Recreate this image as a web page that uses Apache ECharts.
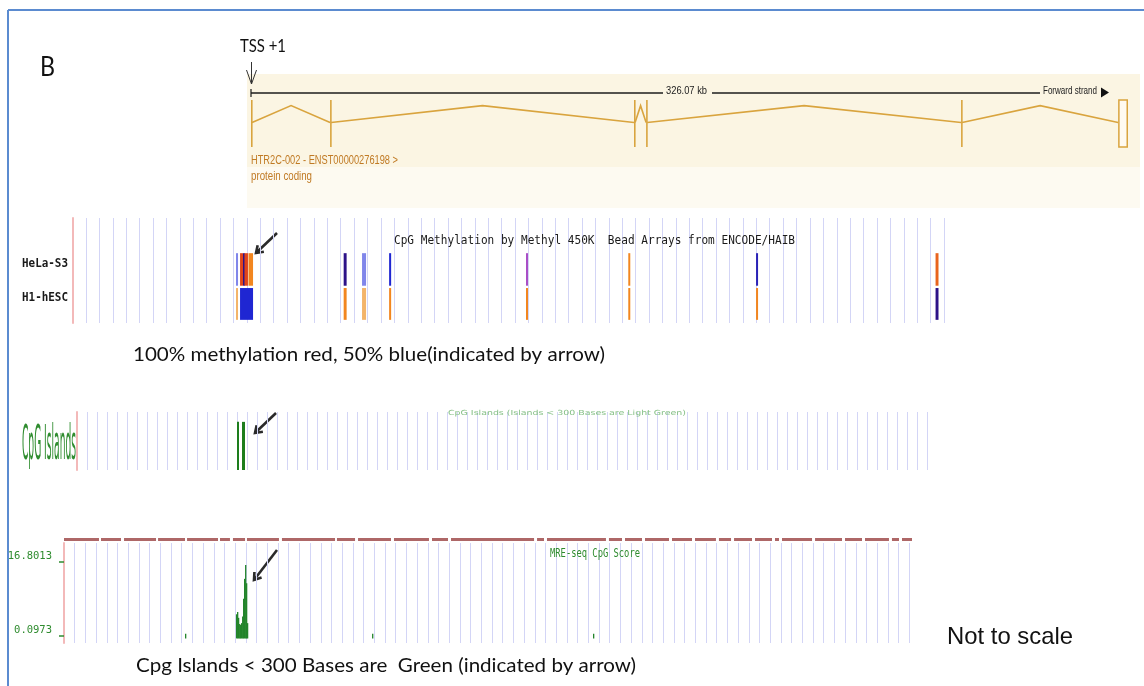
<!DOCTYPE html>
<html>
<head>
<meta charset="utf-8">
<script src="https://cdn.jsdelivr.net/npm/echarts@6/dist/echarts.min.js"></script>
<style>
  html, body { margin: 0; padding: 0; background: #ffffff; }
  #chart { width: 1144px; height: 686px; }
</style>
</head>
<body>
<div id="chart"></div>
<script>
// ---------------- data ----------------
// Transcript HTR2C-002 (kb from the TSS)
const geneSpanKb = 326.07;
const exonStartKb = [0.0, 29.4, 142.4, 146.9, 264.0, 322.4];
const exonEndKb   = [0.4, 29.8, 142.8, 147.3, 264.4, 326.07];
const transcriptName = 'HTR2C-002 - ENST00000276198 >';
const transcriptType = 'protein coding';

// 450K bead array calls per cell line: [start, end, beta]
const cellLines = ['HeLa-S3', 'H1-hESC'];
const helaCalls = [
  [12.19, 12.34, 0.30], [12.49, 12.71, 1.00], [12.71, 12.82, 0.05],
  [12.82, 13.08, 1.00], [13.12, 13.46, 0.85],
  [20.22, 20.44, 0.05], [21.59, 21.89, 0.30], [23.61, 23.76, 0.15],
  [33.82, 33.97, 0.50], [41.45, 41.55, 0.80], [50.98, 51.13, 0.10],
  [64.37, 64.59, 0.90]
];
const h1Calls = [
  [12.19, 12.34, 0.70], [12.49, 13.46, 0.15],
  [20.22, 20.44, 0.85], [21.59, 21.89, 0.70], [23.61, 23.76, 0.80],
  [33.82, 33.97, 0.80], [41.45, 41.55, 0.80], [50.98, 51.13, 0.85],
  [64.37, 64.59, 0.05]
];

// CpG islands: [start, end]
const cpgIslands = [[16.00, 16.20], [16.50, 16.80]];

// MRE-seq CpG score
const mrePos   = [11.31, 16.07, 16.17, 16.26, 16.36, 16.45, 16.54, 16.64, 16.73, 16.82, 16.92, 17.01, 17.10, 28.79, 49.44];
const mreScore = [0.6,   5.0,   5.5,   4.2,   2.8,   2.6,   3.0,   4.5,   8.5,   13.0,  16.1,  12.0,  3.0,   0.6,   0.6];
const mreBin = 0.0935;
const mreTicks = [0.0973, 16.8013];
// read coverage strip above the score track: [start, end]
const mreCoverage = [
  [0.00, 3.27], [3.46, 5.33], [5.61, 8.60], [8.79, 11.31], [11.50, 14.39],
  [14.58, 15.51], [15.79, 16.92], [17.10, 20.09], [20.37, 25.33], [25.51, 27.20],
  [27.48, 30.56], [30.84, 34.11], [34.39, 35.89], [36.17, 43.93], [44.21, 44.86],
  [45.14, 50.65], [50.93, 52.15], [52.43, 54.02], [54.30, 56.54], [56.82, 58.69],
  [58.97, 60.93], [61.21, 62.34], [62.62, 64.30], [64.58, 66.17], [66.45, 66.82],
  [67.10, 69.91], [70.19, 72.71], [72.99, 74.58], [74.86, 77.10], [77.38, 78.04],
  [78.32, 79.25]
];

// ---------------- styling helpers ----------------
const GENE = '#d9a43e';
const GRIDLINE = '#d3d5f6';
const EDGE = '#f3b9b9';
const GREEN = '#2f8c2f';

function betaColor(b) {
  if (b <= 0.07) return '#2d1288';
  if (b <= 0.12) return '#2a22b6';
  if (b <= 0.2)  return '#1f26d2';
  if (b <= 0.35) return '#8086ea';
  if (b <= 0.6)  return '#a94ec6';
  if (b <= 0.75) return '#f3b46a';
  if (b <= 0.88) return '#f2861f';
  if (b <= 0.93) return '#e9641d';
  return '#e0441b';
}

const measureCtx = document.createElement('canvas').getContext('2d');
function fitX(text, font, width) {
  measureCtx.font = font;
  return width / measureCtx.measureText(text).width;
}
function label(text, x, y, font, fill, width, align, scaleY) {
  return {
    type: 'text', x: x, y: y, z: 50,
    scaleX: width ? fitX(text, font, width) : 1,
    scaleY: scaleY || 1,
    style: { text: text, font: font, fill: fill, align: align || 'left', verticalAlign: 'middle' }
  };
}
function arrow(x1, y1, x2, y2) {
  const a = Math.atan2(y2 - y1, x2 - x1), L = 8, s = 0.6;
  return {
    type: 'group', z: 60,
    children: [
      { type: 'line', shape: { x1: x1, y1: y1, x2: x2, y2: y2 }, style: { stroke: '#2a2a2a', lineWidth: 2.6 } },
      { type: 'polyline', shape: { points: [
          [x2 - L * Math.cos(a - s), y2 - L * Math.sin(a - s)], [x2, y2],
          [x2 - L * Math.cos(a + s), y2 - L * Math.sin(a + s)]] },
        style: { stroke: '#2a2a2a', lineWidth: 2.6, fill: null } }
    ]
  };
}

// ---------------- series data ----------------
const exonData = exonStartKb.map((s, i) => [s, exonEndKb[i]]);
const intronData = [];
for (let i = 0; i + 1 < exonStartKb.length; i++) intronData.push([exonEndKb[i], exonStartKb[i + 1]]);

const methylData = [];
helaCalls.forEach(c => methylData.push([c[0], c[1], c[2], 0]));
h1Calls.forEach(c => methylData.push([c[0], c[1], c[2], 1]));
const rowBand = [[0.335, 0.645], [0.667, 0.97]];

const mreData = mrePos.map((p, i) => [p, mreScore[i]]);

// ---------------- axes ----------------
function frameX(grid, max) {
  return {
    gridIndex: grid, type: 'value', min: 0, max: max, interval: 1,
    axisLine: { show: false }, axisTick: { show: false }, axisLabel: { show: false },
    splitLine: { show: true, showMinLine: false, lineStyle: { color: GRIDLINE, width: 1 } }
  };
}
function hiddenX(grid, max) {
  return { gridIndex: grid, type: 'value', min: 0, max: max, show: false };
}
function edgeY(grid, inverse) {
  return {
    gridIndex: grid, type: 'value', min: 0, max: 1, inverse: !!inverse,
    axisLine: { show: true, lineStyle: { color: EDGE, width: 2 } },
    axisTick: { show: false }, axisLabel: { show: false }, splitLine: { show: false }
  };
}

// MRE score axis: ticks at 0.0973 (y≈636) and 16.8013 (y≈562) inside a 100px frame
const mreK = (mreTicks[1] - mreTicks[0]) / 74;
const mreMin = mreTicks[0] - 7 * mreK;
const mreMax = mreTicks[1] + 19 * mreK;

const option = {
  animation: false,
  backgroundColor: '#ffffff',
  grid: [
    { left: 251, top: 100, width: 877, height: 47 },      // gene model
    { left: 72.6, top: 218, width: 871.4, height: 105 },  // methylation
    { left: 77, top: 412, width: 850, height: 58 },       // CpG islands
    { left: 64, top: 543, width: 845.3, height: 100 },    // MRE-seq
    { left: 64, top: 538, width: 845.3, height: 3 }       // MRE coverage strip
  ],
  xAxis: [
    hiddenX(0, geneSpanKb),
    frameX(1, 65),
    frameX(2, 85),
    frameX(3, 79),
    hiddenX(4, 79)
  ],
  yAxis: [
    { gridIndex: 0, type: 'value', min: 0, max: 1, show: false },
    edgeY(1, true),
    edgeY(2, false),
    {
      gridIndex: 3, type: 'value', min: mreMin, max: mreMax,
      axisLine: { show: true, lineStyle: { color: EDGE, width: 2 } },
      axisTick: { show: true, length: 5, customValues: mreTicks, lineStyle: { color: GREEN, width: 1.5 } },
      axisLabel: {
        show: true, customValues: mreTicks, margin: 12, color: GREEN,
        fontFamily: 'DejaVu Sans Mono', fontSize: 10.5, verticalAlign: 'bottom',
        formatter: v => v.toFixed(4)
      },
      splitLine: { show: false }
    },
    { gridIndex: 4, type: 'value', min: 0, max: 1, show: false }
  ],
  series: [
    {
      type: 'custom', xAxisIndex: 0, yAxisIndex: 0, data: intronData, clip: false,
      renderItem: (params, api) => {
        const a = api.value(0), b = api.value(1);
        const p0 = api.coord([a, 0.52]), p1 = api.coord([(a + b) / 2, 0.88]), p2 = api.coord([b, 0.52]);
        return { type: 'polyline', shape: { points: [p0, p1, p2] }, style: { stroke: GENE, lineWidth: 1.6, fill: null } };
      }
    },
    {
      type: 'custom', xAxisIndex: 0, yAxisIndex: 0, data: exonData, clip: false,
      renderItem: (params, api) => {
        const p0 = api.coord([api.value(0), 1]), p1 = api.coord([api.value(1), 0]);
        const w = p1[0] - p0[0];
        if (w > 4) {
          return { type: 'rect', shape: { x: p0[0] + 0.75, y: p0[1], width: w - 1.5, height: p1[1] - p0[1] },
                   style: { fill: '#fffaf0', stroke: GENE, lineWidth: 1.5 } };
        }
        return { type: 'rect', shape: { x: p0[0], y: p0[1], width: Math.max(w, 1.6), height: p1[1] - p0[1] },
                 style: { fill: GENE } };
      }
    },
    {
      type: 'custom', xAxisIndex: 1, yAxisIndex: 1, data: methylData,
      renderItem: (params, api) => {
        const band = rowBand[api.value(3)];
        const p0 = api.coord([api.value(0), band[0]]), p1 = api.coord([api.value(1), band[1]]);
        return { type: 'rect', shape: { x: p0[0], y: p0[1], width: Math.max(p1[0] - p0[0], 2), height: p1[1] - p0[1] },
                 style: { fill: betaColor(api.value(2)) } };
      }
    },
    {
      type: 'custom', xAxisIndex: 2, yAxisIndex: 2, data: cpgIslands,
      renderItem: (params, api) => {
        const p0 = api.coord([api.value(0), 0.83]), p1 = api.coord([api.value(1), 0]);
        return { type: 'rect', shape: { x: p0[0], y: p0[1], width: Math.max(p1[0] - p0[0], 1.6), height: p1[1] - p0[1] },
                 style: { fill: '#1d7d1d' } };
      }
    },
    {
      type: 'custom', xAxisIndex: 3, yAxisIndex: 3, data: mreData, clip: false,
      renderItem: (params, api) => {
        const top = api.coord([api.value(0), api.value(1)]);
        const base = api.coord([api.value(0), 0]);
        const w = api.size([mreBin, 0])[0];
        return { type: 'rect', shape: { x: top[0], y: top[1], width: w + 0.3, height: base[1] - top[1] + 2 },
                 style: { fill: '#22842a' } };
      }
    },
    {
      type: 'custom', xAxisIndex: 4, yAxisIndex: 4, data: mreCoverage, clip: false,
      renderItem: (params, api) => {
        const p0 = api.coord([api.value(0), 1]), p1 = api.coord([api.value(1), 0]);
        return { type: 'rect', shape: { x: p0[0], y: p0[1], width: p1[0] - p0[0], height: p1[1] - p0[1] },
                 style: { fill: '#8c2626', opacity: 0.7 } };
      }
    }
  ],
  graphic: { elements: [] }
};

const g = option.graphic.elements;
// frame
g.push({ type: 'line', shape: { x1: 8, y1: 10, x2: 8, y2: 686 }, style: { stroke: '#5b8bd0', lineWidth: 2 } });
g.push({ type: 'line', shape: { x1: 8, y1: 10, x2: 1144, y2: 10 }, style: { stroke: '#5b8bd0', lineWidth: 2 } });

// panel letter and TSS marker
g.push(label('B', 40, 68, '26px Lato', '#111', 15));
g.push(label('TSS +1', 240, 46, '18px Lato', '#111', 46));
g.push({ type: 'line', z: 60, shape: { x1: 251.5, y1: 62, x2: 251.5, y2: 84 }, style: { stroke: '#333', lineWidth: 1 } });
g.push({ type: 'polyline', z: 60, shape: { points: [[246.5, 70], [251.5, 84], [256.5, 70]] }, style: { stroke: '#333', lineWidth: 1, fill: null } });

// gene panel background
g.push({ type: 'rect', z: -1, shape: { x: 247, y: 74, width: 893, height: 93 }, style: { fill: '#fbf5e3' } });
g.push({ type: 'rect', z: -1, shape: { x: 247, y: 167, width: 893, height: 41 }, style: { fill: '#fdfaf1' } });
// scale bar
g.push({ type: 'line', shape: { x1: 251, y1: 93, x2: 663, y2: 93 }, style: { stroke: '#1c1c1c', lineWidth: 1.4 } });
g.push({ type: 'line', shape: { x1: 712, y1: 93, x2: 1040, y2: 93 }, style: { stroke: '#1c1c1c', lineWidth: 1.4 } });
g.push({ type: 'line', shape: { x1: 251, y1: 89, x2: 251, y2: 97 }, style: { stroke: '#1c1c1c', lineWidth: 1.2 } });
g.push(label(geneSpanKb + ' kb', 666, 91, '11px Liberation Sans', '#222', 41));
g.push(label('Forward strand', 1043, 91, '11px Liberation Sans', '#222', 54));
g.push({ type: 'polygon', shape: { points: [[1101, 87.5], [1109, 92.5], [1101, 97.5]] }, style: { fill: '#111' } });
g.push(label(transcriptName, 251, 160.5, '13px Liberation Sans', '#c07a24', 147));
g.push(label(transcriptType, 251, 176, '13px Liberation Sans', '#c07a24', 61));

// methylation track text
g.push(label('CpG Methylation by Methyl 450K  Bead Arrays from ENCODE/HAIB', 394, 241, '13px DejaVu Sans Mono', '#1a1a1a', 401));
g.push(label(cellLines[0], 68, 264, 'bold 13px DejaVu Sans Mono', '#1a1a1a', 46, 'right'));
g.push(label(cellLines[1], 68, 298, 'bold 13px DejaVu Sans Mono', '#1a1a1a', 46, 'right'));
g.push(arrow(277, 233, 256, 253));
g.push(label('100% methylation red, 50% blue(indicated by arrow)', 133, 355, '20px Lato', '#111', 472));

// CpG island track text
g.push(label('CpG Islands', 22, 447, '10px DejaVu Sans', GREEN, 54, 'left', 4.8));
g.push(label('CpG Islands (Islands < 300 Bases are Light Green)', 448, 413, '7px DejaVu Sans', '#86c086', 238));
g.push(arrow(276, 413, 255, 433));

// MRE-seq track text
g.push(label('MRE-seq CpG Score', 550, 554, '13px DejaVu Sans Mono', GREEN, 90));
g.push(arrow(277, 550, 254, 580));
g.push(label('Cpg Islands < 300 Bases are  Green (indicated by arrow)', 136, 666, '20px Lato', '#111', 500));
g.push(label('Not to scale', 947, 637, '24px Liberation Sans', '#111', 126));

const chart = echarts.init(document.getElementById('chart'));
chart.setOption(option);
</script>
</body>
</html>
